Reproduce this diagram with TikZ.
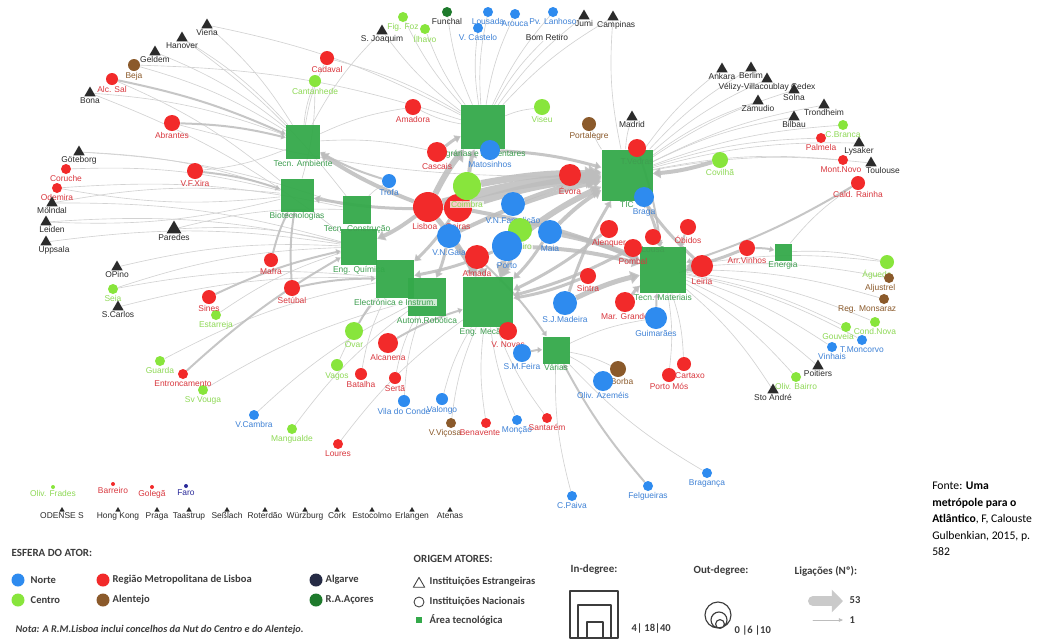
\documentclass[tikz,border=0pt]{standalone}
\usepackage{fontspec}
\setmainfont{Liberation Sans}
\newfontfamily\legfont{Carlito}
\usetikzlibrary{arrows.meta,shapes.geometric}
\definecolor{cNorte}{HTML}{2E8BEF}
\definecolor{cCentro}{HTML}{88E53C}
\definecolor{cLisboa}{HTML}{F22A2A}
\definecolor{cAlentejo}{HTML}{8B5A2B}
\definecolor{cAlgarve}{HTML}{262B45}
\definecolor{cFaro}{HTML}{2A2A9A}
\definecolor{cAcores}{HTML}{1E7A2C}
\definecolor{cArea}{HTML}{34A94A}
\definecolor{tNorte}{HTML}{3F82D6}
\definecolor{tCentro}{HTML}{8FD957}
\definecolor{tLisboa}{HTML}{D9383F}
\definecolor{tArea}{HTML}{3E9E50}
\definecolor{tEstr}{HTML}{2B2B2B}
\definecolor{edgegray}{HTML}{D2D2D2}
\definecolor{flowgray}{HTML}{BDBDBD}
\definecolor{leggray}{HTML}{3C3C3C}
\pgfdeclarelayer{background}
\pgfsetlayers{background,main}
\tikzset{
  every picture/.style={line join=round, line cap=round},
  actor/.style={circle, inner sep=0pt, minimum size=#1*0.025cm},
  norte/.style={actor=#1, fill=cNorte}, norte/.default=12,
  centro/.style={actor=#1, fill=cCentro}, centro/.default=12,
  lisboa/.style={actor=#1, fill=cLisboa}, lisboa/.default=12,
  alentejo/.style={actor=#1, fill=cAlentejo}, alentejo/.default=12,
  algarve/.style={actor=#1, fill=cAlgarve}, algarve/.default=12,
  acores/.style={actor=#1, fill=cAcores}, acores/.default=12,
  estr/.style={regular polygon, regular polygon sides=3, inner sep=0pt, minimum size=#1*0.025cm, fill=tEstr},
  estr/.default=13,
  tarea/.style={rectangle, inner sep=0pt, minimum size=#1*0.025cm, fill=cArea, fill opacity=0.95},
  every label/.style={inner sep=0.5pt},
  lab/.style={font=\fontsize{6}{7}\selectfont},
  lN/.style={lab, text=tNorte},
  lC/.style={lab, text=tCentro},
  lR/.style={lab, text=tLisboa},
  lB/.style={lab, text=cAlentejo},
  lK/.style={lab, text=tEstr},
  lA/.style={lab, text=tArea},
  lW/.style={fill=white, fill opacity=0.75, text opacity=1},
  lnk/.style={draw=edgegray, line width=0.45pt},
  flx/.style={draw=flowgray, draw opacity=0.85, -{Triangle[length=1pt 1.6, width=1pt 2.2]}},
  legh/.style={font=\legfont\bfseries\fontsize{7.8}{9}\selectfont, text=leggray, inner sep=1pt},
  legt/.style={font=\legfont\bfseries\fontsize{7.5}{9}\selectfont, text=leggray, inner sep=1pt},
  legn/.style={font=\legfont\bfseries\itshape\fontsize{7.3}{9}\selectfont, text=leggray, inner sep=1pt},
  fonte/.style={font=\legfont\fontsize{8.3}{11.7}\selectfont, align=left, inner sep=0pt, text=black},
}
\begin{document}
\begin{tikzpicture}[x=0.025cm,y=-0.025cm]
\useasboundingbox (0,0) rectangle (1059,641);
\begin{pgfonlayer}{background}
\fill[white] (0,0) rectangle (1059,641);
\end{pgfonlayer}

\node[tarea=34, label={[lA]below:Tecn. Ambiente}] (amb) at (303,142) {};
\node[tarea=33, label={[lA]below:Biotecnologias}] (bio) at (297,195) {};
\node[tarea=36, label={[lA]below:Eng. Química}] (quim) at (359,247) {};
\node[tarea=28, label={[lA]below:Tecn. Construção}] (cons) at (357,210) {};
\node[tarea=38, label={[lA]below:Autom.Robótica}] (autom) at (427,297) {};
\node[tarea=38, label={[lA,lW]below:Electrónica e Instrum.}] (elec) at (395,279) {};
\node[tarea=50, label={[lA]below:Eng. Mecânica}] (mec) at (488,302) {};
\node[tarea=44, label={[lA]below:Agrárias e Alimentares}] (agr) at (483,127) {};
\node[tarea=51, label={[lA]below:TIC}] (tic) at (627,175) {};
\node[tarea=46, label={[lA]below:Tecn. Materiais}] (mat) at (663,270) {};
\node[tarea=27, label={[lA]below:Várias}] (var) at (556,350) {};
\node[tarea=17, label={[lA]below:Energia}] (ene) at (783,252) {};

\node[estr, label={[lK]below:S. Joaquim}] (sjoaquim) at (382,31) {};
\node[centro=10, label={[lC]below:Fig. Foz}] (figfoz) at (403,17) {};
\node[centro=10, label={[lC]below:Ílhavo}] (ilhavo) at (425,29) {};
\node[acores=10, label={[lK]below:Funchal}] (funchal) at (447,12) {};
\node[norte=10, label={[lN]below:Lousada}] (lousada) at (488,12) {};
\node[norte=10, label={[lN]below:V. Castelo}] (vcastelo) at (478,28) {};
\node[norte=10, label={[lN]below:Arouca}] (arouca) at (515,14) {};
\node[norte=10, label={[lN]below:Pv. Lanhoso}] (pvlanhoso) at (553,12) {};
\node[lK, inner sep=0.5pt] (bomretiro) at (547,37) {Bom Retiro};
\node[estr, label={[lK]below:Jumi}] (jumi) at (584,16) {};
\node[estr, label={[lK, xshift=0.08cm]below:Campinas}] (campinas) at (613,17) {};

\node[estr, label={[lK]below:Viena}] (viena) at (207,25) {};
\node[estr, label={[lK]below:Hanover}] (hanover) at (182,38) {};
\node[estr, label={[lK]below:Geldem}] (geldem) at (155,52) {};
\node[alentejo=12, label={[lB]below:Beja}] (beja) at (134,65) {};
\node[lisboa=12, label={[lR]below:Alc. Sal}] (alcsal) at (112,79) {};
\node[estr, label={[lK]below:Bona}] (bona) at (90,93) {};
\node[lisboa=16, label={[lR]below:Abrantes}] (abrantes) at (172,123) {};
\node[lisboa=14, label={[lR]below:Cadaval}] (cadaval) at (327,58) {};
\node[centro=12, label={[lC]below:Cantanhede}] (cantanhede) at (315,81) {};
\node[estr, label={[lK]below:Göteborg}] (goteborg) at (79,152) {};
\node[lisboa=10, label={[lR]below:Coruche}] (coruche) at (66,169) {};
\node[lisboa=10, label={[lR]below:Odemira}] (odemira) at (57,188) {};
\node[lisboa=16, label={[lR]below:V.F.Xira}] (vfxira) at (195,171) {};
\node[estr, label={[lK]below:Mölndal}] (molndal) at (52,203) {};
\node[estr, label={[lK, xshift=0.15cm]below:Leiden}] (leiden) at (46,222) {};
\node[estr, label={[lK, xshift=0.2cm]below:Uppsala}] (uppsala) at (46,242) {};
\node[estr=17, label={[lK]below:Paredes}] (paredes) at (174,229) {};
\node[estr, label={[lK]below:OPino}] (opino) at (117,267) {};
\node[centro=10, label={[lC]below:Seia}] (seia) at (113,289) {};
\node[estr, label={[lK]below:S.Carlos}] (scarlos) at (118,307) {};
\node[lisboa=14, label={[lR]below:Mafra}] (mafra) at (271,260) {};
\node[lisboa=16, label={[lR]below:Setúbal}] (setubal) at (292,288) {};
\node[centro=10, label={[lC]below:Estarreja}] (estarreja) at (216,315) {};
\node[lisboa=14, label={[lR]below:Sines}] (sines) at (209,297) {};
\node[centro=10, label={[lC]below:Guarda}] (guarda) at (160,361) {};
\node[centro=10, label={[lC]below:Sv Vouga}] (svvouga) at (203,390) {};
\node[lisboa=10, label={[lR]below:Entroncamento}] (entroncamento) at (183,374) {};
\node[norte=10, label={[lN]below:V.Cambra}] (vcambra) at (254,415) {};
\node[centro=10, label={[lC]below:Mangualde}] (mangualde) at (292,429) {};
\node[lisboa=10, label={[lR]below:Loures}] (loures) at (338,444) {};
\node[centro=18, label={[lC]below:Ovar}] (ovar) at (354,331) {};
\node[centro=12, label={[lC]below:Vagos}] (vagos) at (337,365) {};
\node[lisboa=20, label={[lR]below:Alcanena}] (alcanena) at (388,343) {};
\node[lisboa=12, label={[lR]below:Batalha}] (batalha) at (361,374) {};
\node[lisboa=12, label={[lR]below:Sertã}] (serta) at (395,378) {};
\node[norte=12, label={[lN]below:Vila do Conde}] (viladoconde) at (404,401) {};
\node[norte=12, label={[lN]below:Valongo}] (valongo) at (442,399) {};
\node[alentejo=10, label={[lB, xshift=-0.15cm]below:V.Viçosa}] (vvicosa) at (451,423) {};
\node[lisboa=10, label={[lR, xshift=-0.15cm]below:Benavente}] (benavente) at (486,423) {};
\node[norte=10, label={[lN]below:Monção}] (moncao) at (517,420) {};
\node[lisboa=10, label={[lR]below:Santarém}] (santarem) at (547,418) {};
\node[norte=10, label={[lN]below:C.Paiva}] (cpaiva) at (572,496) {};
\node[norte=10, label={[lN]below:Felgueiras}] (felgueiras) at (648,486) {};
\node[norte=10, label={[lN]below:Bragança}] (braganca) at (707,473) {};

\node[lisboa=16, label={[lR]below:Amadora}] (amadora) at (413,107) {};
\node[lisboa=20, label={[lR]below:Cascais}] (cascais) at (437,152) {};
\node[norte=20, label={[lN]below:Matosinhos}] (matosinhos) at (490,150) {};
\node[norte=14, label={[lN]below:Trofa}] (trofa) at (389,181) {};
\node[lisboa=30, label={[lR, xshift=-0.08cm]below:Lisboa}] (lisboa) at (428,207) {};
\node[lisboa=28, label={[lR]below:Oeiras}] (oeiras) at (458,208) {};
\node[centro=28, label={[lC,lW]below:Coimbra}] (coimbra) at (467,186) {};
\node[norte=24, label={[lN]below:V.N.Famalicão}] (vnfamalicao) at (513,204) {};
\node[centro=24, label={[lC,lW]below:Aveiro}] (aveiro) at (520,230) {};
\node[norte=24, label={[lN]below:Maia}] (maia) at (550,232) {};
\node[norte=24, label={[lN]below:V.N.Gaia}] (vngaia) at (449,236) {};
\node[norte=30, label={[lN]below:Porto}] (porto) at (507,246) {};
\node[lisboa=24, label={[lR]below:Almada}] (almada) at (477,257) {};
\node[lisboa=22, label={[lR]below:Évora}] (evora) at (570,175) {};
\node[centro=16, label={[lC]below:Viseu}] (viseu) at (542,107) {};
\node[alentejo=14, label={[lB]below:Portalegre}] (portalegre) at (589,124) {};
\node[estr, label={[lK]below:Madrid}] (madrid) at (632,117) {};
\node[lisboa=18, label={[lA]below:T.Vedras}] (tvedras) at (637,148) {};
\node[norte=20, label={[lN]below:Braga}] (braga) at (644,197) {};
\node[lisboa=18, label={[lR]below:Alenquer}] (alenquer) at (609,229) {};
\node[lisboa=16, label={[lA]below:Lousã}] (lousa) at (653,237) {};
\node[lisboa=18, label={[lR]below:Pombal}] (pombal) at (633,248) {};
\node[lisboa=16, label={[lR]below:Óbidos}] (obidos) at (688,227) {};
\node[lisboa=22, label={[lR]below:Leiria}] (leiria) at (702,266) {};
\node[lisboa=16, label={[lR]below:Arr.Vinhos}] (arrvinhos) at (747,248) {};
\node[lisboa=16, label={[lR]below:Sintra}] (sintra) at (588,276) {};
\node[norte=24, label={[lN]below:S.J.Madeira}] (sjmadeira) at (565,303) {};
\node[lisboa=20, label={[lR]below:Mar. Grande}] (margrande) at (625,302) {};
\node[norte=22, label={[lN]below:Guimarães}] (guimaraes) at (656,318) {};
\node[lisboa=18, label={[lR]below:V. Novas}] (vnovas) at (508,331) {};
\node[norte=18, label={[lN]below:S.M.Feira}] (smfeira) at (522,353) {};
\node[alentejo=16, label={[lB, xshift=0.1cm]below:Borba}] (borba) at (618,369) {};
\node[norte=20, label={[lN]below:Oliv. Azeméis}] (olivazemeis) at (603,381) {};
\node[lisboa=14, label={[lR]below:Porto Mós}] (portomos) at (669,375) {};
\node[lisboa=14, label={[lR, xshift=0.15cm]below:Cartaxo}] (cartaxo) at (684,364) {};

\node[centro=16, label={[lC]below:Covilhã}] (covilha) at (720,160) {};
\node[estr, label={[lK]below:Ankara}] (ankara) at (722,69) {};
\node[estr, label={[lK]below:Berlim}] (berlim) at (751,68) {};
\node[estr, label={[lK]below:Vélizy-Villacoublay Cedex}] (velizy) at (767,79) {};
\node[estr, label={[lK]below:Solna}] (solna) at (794,90) {};
\node[estr, label={[lK]below:Zamudio}] (zamudio) at (758,101) {};
\node[estr, label={[lK]below:Trondheim}] (trondheim) at (824,105) {};
\node[estr, label={[lK]below:Bilbau}] (bilbau) at (794,117) {};
\node[centro=10, label={[lC]below:C.Branca}] (cbranca) at (843,125) {};
\node[lisboa=10, label={[lR]below:Palmela}] (palmela) at (821,138) {};
\node[estr, label={[lK]below:Lysaker}] (lysaker) at (859,143) {};
\node[estr, label={[lK, xshift=0.3cm]below:Toulouse}] (toulouse) at (871,163) {};
\node[lisboa=10, label={[lR, xshift=-0.05cm]below:Mont.Novo}] (montnovo) at (843,160) {};
\node[lisboa=14, label={[lR]below:Cald. Rainha}] (caldrainha) at (858,183) {};
\node[centro=14, label={[lC, xshift=-0.25cm]below:Águeda}] (agueda) at (887,262) {};
\node[alentejo=10, label={[lB, xshift=-0.22cm]below:Aljustrel}] (aljustrel) at (889,278) {};
\node[alentejo=10, label={[lB, xshift=-0.42cm]below:Reg. Monsaraz}] (monsaraz) at (884,299) {};
\node[centro=10, label={[lC, xshift=-0.2cm]below:Gouveia}] (gouveia) at (846,327) {};
\node[centro=10, label={[lC]below:Cond.Nova}] (condnova) at (875,322) {};
\node[norte=10, label={[lN]below:T.Moncorvo}] (tmoncorvo) at (862,340) {};
\node[norte=10, label={[lN]below:Vinhais}] (vinhais) at (832,347) {};
\node[estr, label={[lK]below:Poitiers}] (poitiers) at (818,366) {};
\node[centro=10, label={[lC]below:Oliv. Bairro}] (olivbairro) at (796,377) {};
\node[estr, label={[lK]below:Sto André}] (stoandre) at (773,390) {};

\node[centro=4, label={[lC]below:Oliv. Frades}] (olivfrades) at (53,487) {};
\node[lisboa=4, label={[lR]below:Barreiro}] (barreiro) at (113,484) {};
\node[lisboa=4, label={[lR]below:Golegã}] (golega) at (152,487) {};
\node[actor=4, fill=cFaro, label={[lab, text=cFaro]below:Faro}] (faro) at (186,486) {};
\foreach \n/\x/\t in {odense/62/ODENSE S, hongkong/118/Hong Kong, praga/157/Praga, taastrup/189/Taastrup, sesslach/227/Seßlach, roterdao/265/Roterdão, wurzburg/305/Würzburg, cork/337/Cork, estocolmo/372/Estocolmo, erlangen/412/Erlangen, atenas/450/Atenas}
  \node[estr=6, label={[lK]below:\t}] (\n) at (\x,510) {};

\begin{pgfonlayer}{background}
\foreach \a/\b in {viena/amb, viena/agr, hanover/amb, hanover/cons, geldem/amb, beja/amb, beja/agr, alcsal/bio, bona/amb, bona/quim, cadaval/agr, cantanhede/bio, goteborg/bio, goteborg/cons, coruche/bio, odemira/cons, molndal/bio, molndal/quim, leiden/quim, uppsala/quim, paredes/cons, paredes/quim, opino/quim, seia/quim, seia/elec, scarlos/elec, estarreja/quim, guarda/elec, svvouga/autom, vcambra/autom, mangualde/autom, loures/mec, vagos/elec, batalha/elec, serta/autom, viladoconde/autom, valongo/mec, vvicosa/mec, benavente/mec, moncao/mec, santarem/mec, cpaiva/var, braganca/var}
  \draw[lnk] (\a) to[bend left=8] (\b);
\foreach \a/\b in {sjoaquim/agr, sjoaquim/amb, figfoz/agr, ilhavo/agr, funchal/agr, lousada/agr, vcastelo/agr, arouca/agr, pvlanhoso/agr, bomretiro/agr, jumi/agr, campinas/agr, campinas/tic, viseu/agr, portalegre/tic, madrid/tic, ankara/tic, berlim/tic, velizy/tic, solna/tic, zamudio/tic, trondheim/tic, bilbau/tic, cbranca/tic, palmela/tic, lysaker/tic, montnovo/tic, toulouse/tic, caldrainha/ene, agueda/mat, agueda/ene, aljustrel/mat, monsaraz/mat, gouveia/mat, condnova/mat, tmoncorvo/mat, vinhais/mat, poitiers/mat, olivbairro/mat, stoandre/mat, amadora/agr, amadora/amb, cascais/amb, trofa/cons, cartaxo/mat, portomos/mat, borba/var, olivazemeis/var, guimaraes/var, cadaval/amb, cantanhede/amb, abrantes/tic, vfxira/amb, leiden/bio, odemira/bio}
  \draw[lnk] (\a) to[bend right=8] (\b);
\foreach \a/\b/\w in {lisboa/agr/6, lisboa/tic/9, oeiras/tic/8, lisboa/amb/4, oeiras/bio/3, porto/mec/6, porto/tic/6, vngaia/mec/5, maia/mat/5, maia/tic/4, coimbra/tic/7, coimbra/agr/4, almada/mec/4, vnfamalicao/tic/4, matosinhos/tic/3, cascais/agr/3, evora/tic/3, sjmadeira/mat/5, leiria/mat/4, margrande/mat/3, braga/mat/3, alenquer/mec/3, sintra/mec/3, pombal/mec/3, vnovas/mec/2, trofa/amb/2, aveiro/mec/4, lisboa/quim/4, oeiras/elec/3, porto/elec/3, vngaia/autom/3, almada/var/2, smfeira/var/2, covilha/tic/4, caldrainha/mat/2, arrvinhos/mat/3, obidos/mat/2, mafra/bio/2, setubal/bio/2, sines/quim/2, alcanena/mec/2, tvedras/mat/2, abrantes/amb/2, vfxira/bio/2, alcsal/amb/2, entroncamento/quim/2, felgueiras/var/2, ovar/elec/2, oeiras/mat/4, porto/mat/4, lisboa/mec/5, vngaia/tic/4, setubal/elec/2, sjmadeira/tic/3, maia/mec/3, leiria/tic/3, arrvinhos/ene/2, guimaraes/mat/2}
  \draw[flx, line width=\w*0.025cm] (\a) to[bend left=6] (\b);
\end{pgfonlayer}

\node[legh, anchor=west] (esfera) at (10,553) {ESFERA DO ATOR:};
\node[norte=13] (kn) at (18,580) {};
\node[legt, anchor=west] (tn) at (29,580) {Norte};
\node[centro=13] (kc) at (18,600) {};
\node[legt, anchor=west] (tc) at (29,600) {Centro};
\node[lisboa=13] (kl) at (103,580) {};
\node[legt, anchor=west] (tl) at (111,580) {Região Metropolitana de Lisboa};
\node[alentejo=13] (kb) at (103,600) {};
\node[legt, anchor=west] (tb) at (111,600) {Alentejo};
\node[algarve=13] (ka) at (316,580) {};
\node[legt, anchor=west] (ta) at (324,580) {Algarve};
\node[acores=13] (kz) at (316,600) {};
\node[legt, anchor=west] (tz) at (324,600) {R.A.Açores};
\node[legn, anchor=west] (nota) at (14,630) {Nota: A R.M.Lisboa inclui concelhos da Nut do Centro e do Alentejo.};

\node[legh, anchor=west] (origem) at (412,559) {ORIGEM ATORES:};
\node[regular polygon, regular polygon sides=3, draw=leggray, line width=0.6pt, inner sep=0pt, minimum size=0.33cm] (ke) at (419,584) {};
\node[legt, anchor=west] (te) at (428,582) {Instituições Estrangeiras};
\node[circle, draw=leggray, line width=0.6pt, inner sep=0pt, minimum size=0.25cm] (ki) at (419,602) {};
\node[legt, anchor=west] (ti) at (428,602) {Instituições Nacionais};
\node[rectangle, fill=cArea, inner sep=0pt, minimum size=0.17cm] (kt) at (419,620) {};
\node[legt, anchor=west] (tt) at (428,620) {Área tecnológica};

\node[legh, anchor=west] (indeg) at (569,570) {In-degree:};
\draw[leggray, line width=0.8pt] (570,591) rectangle (618,638) (578,605) rectangle (611,638) (587,622) rectangle (603,638);
\node[legt, anchor=west] (tin) at (630,628) {4| 18|40};

\node[legh, anchor=west] (outdeg) at (692,571) {Out-degree:};
\draw[leggray, line width=0.8pt] (718,615) circle[radius=0.325cm] (719,620) circle[radius=0.2cm] (720,624) circle[radius=0.11cm];
\node[legt, anchor=west] (tout) at (733,630) {0 |6 |10};

\node[legh, anchor=west] (lig) at (793,571) {Ligações (Nº):};
\coordinate (b0) at (813,601);
\coordinate (b1) at (843,601);
\draw[flowgray!80, line width=0.25cm, -{Triangle[length=0.28cm, width=0.55cm]}] (b0) -- (b1);
\node[legt, anchor=west] (t53) at (848,600) {53};
\coordinate (s0) at (813,620);
\coordinate (s1) at (843,620);
\draw[flowgray, line width=0.5pt, -{Triangle[length=3pt, width=2.5pt]}] (s0) -- (s1);
\node[legt, anchor=west] (t1) at (848,620) {1};

\node[fonte, anchor=north west] (fonte) at (932,482) {Fonte: \textbf{Uma}\\\textbf{metrópole para o}\\\textbf{Atlântico}, F, Calouste\\Gulbenkian, 2015, p.\\582};
\end{tikzpicture}
\end{document}
